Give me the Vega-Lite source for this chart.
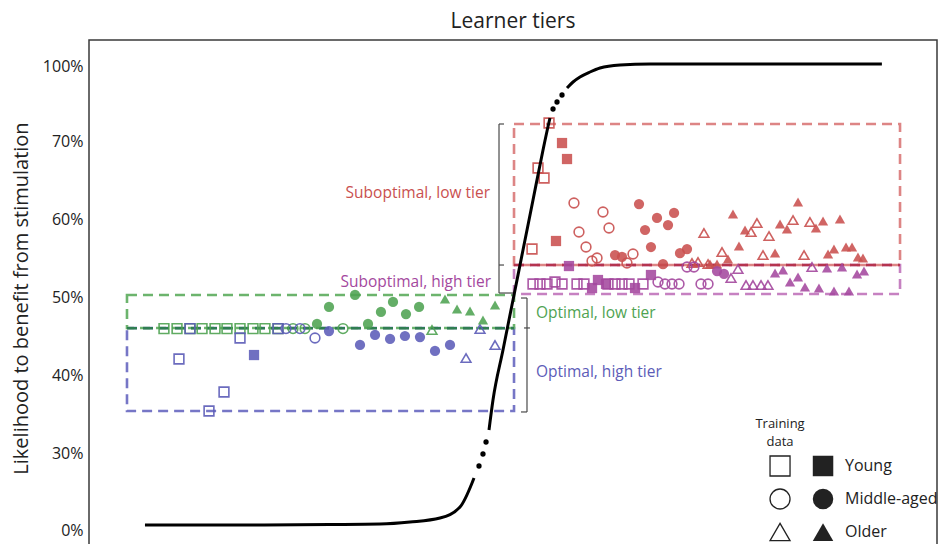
{
  "$schema": "https://vega.github.io/schema/vega-lite/v6.json",
  "width": 848,
  "height": 510,
  "autosize": {"type": "none"},
  "padding": {"left": 89, "top": 40, "right": 7, "bottom": 0},
  "title": {"text": "Learner tiers", "fontSize": 21, "fontWeight": "normal", "color": "#222", "offset": 8, "anchor": "middle"},
  "config": {"font": "Open Sans", "view": {"stroke": "#3a3a3a", "strokeWidth": 1.5}},
  "datasets": {
    "pts": [
      {"tier": "Optimal, low tier", "age": "Young", "set": "training", "x": 8.84, "y": 45.95},
      {"tier": "Optimal, low tier", "age": "Young", "set": "training", "x": 10.38, "y": 45.95},
      {"tier": "Optimal, low tier", "age": "Young", "set": "training", "x": 11.91, "y": 45.95},
      {"tier": "Optimal, low tier", "age": "Young", "set": "training", "x": 13.33, "y": 45.95},
      {"tier": "Optimal, low tier", "age": "Young", "set": "training", "x": 14.86, "y": 45.95},
      {"tier": "Optimal, low tier", "age": "Young", "set": "training", "x": 16.27, "y": 45.95},
      {"tier": "Optimal, low tier", "age": "Young", "set": "training", "x": 17.81, "y": 45.95},
      {"tier": "Optimal, low tier", "age": "Young", "set": "training", "x": 19.34, "y": 45.95},
      {"tier": "Optimal, low tier", "age": "Young", "set": "training", "x": 20.75, "y": 45.95},
      {"tier": "Optimal, low tier", "age": "Young", "set": "training", "x": 22.29, "y": 45.95},
      {"tier": "Optimal, low tier", "age": "Middle-aged", "set": "training", "x": 24.06, "y": 45.95},
      {"tier": "Optimal, low tier", "age": "Middle-aged", "set": "training", "x": 25.47, "y": 45.95},
      {"tier": "Optimal, low tier", "age": "Middle-aged", "set": "training", "x": 29.95, "y": 45.95},
      {"tier": "Optimal, low tier", "age": "Middle-aged", "set": "test", "x": 26.89, "y": 46.54},
      {"tier": "Optimal, low tier", "age": "Middle-aged", "set": "test", "x": 28.30, "y": 48.72},
      {"tier": "Optimal, low tier", "age": "Middle-aged", "set": "test", "x": 31.37, "y": 50.26},
      {"tier": "Optimal, low tier", "age": "Middle-aged", "set": "test", "x": 32.90, "y": 46.54},
      {"tier": "Optimal, low tier", "age": "Middle-aged", "set": "test", "x": 34.43, "y": 48.08},
      {"tier": "Optimal, low tier", "age": "Middle-aged", "set": "test", "x": 35.85, "y": 49.36},
      {"tier": "Optimal, low tier", "age": "Middle-aged", "set": "test", "x": 37.38, "y": 47.82},
      {"tier": "Optimal, low tier", "age": "Middle-aged", "set": "test", "x": 38.92, "y": 48.72},
      {"tier": "Optimal, low tier", "age": "Older", "set": "test", "x": 41.98, "y": 49.74},
      {"tier": "Optimal, low tier", "age": "Older", "set": "test", "x": 43.40, "y": 48.46},
      {"tier": "Optimal, low tier", "age": "Older", "set": "test", "x": 44.93, "y": 48.21},
      {"tier": "Optimal, low tier", "age": "Older", "set": "test", "x": 46.46, "y": 47.05},
      {"tier": "Optimal, low tier", "age": "Older", "set": "test", "x": 47.88, "y": 48.97},
      {"tier": "Optimal, low tier", "age": "Older", "set": "training", "x": 40.45, "y": 45.77},

      {"tier": "Optimal, high tier", "age": "Young", "set": "training", "x": 17.81, "y": 44.74},
      {"tier": "Optimal, high tier", "age": "Young", "set": "training", "x": 10.61, "y": 42.05},
      {"tier": "Optimal, high tier", "age": "Young", "set": "training", "x": 15.92, "y": 37.82},
      {"tier": "Optimal, high tier", "age": "Young", "set": "training", "x": 14.15, "y": 35.38},
      {"tier": "Optimal, high tier", "age": "Young", "set": "training", "x": 11.91, "y": 45.95},
      {"tier": "Optimal, high tier", "age": "Young", "set": "training", "x": 22.29, "y": 45.95},
      {"tier": "Optimal, high tier", "age": "Young", "set": "test", "x": 19.46, "y": 42.56},
      {"tier": "Optimal, high tier", "age": "Middle-aged", "set": "training", "x": 26.65, "y": 44.74},
      {"tier": "Optimal, high tier", "age": "Middle-aged", "set": "training", "x": 23.23, "y": 45.95},
      {"tier": "Optimal, high tier", "age": "Middle-aged", "set": "training", "x": 24.88, "y": 45.95},
      {"tier": "Optimal, high tier", "age": "Middle-aged", "set": "test", "x": 28.30, "y": 45.64},
      {"tier": "Optimal, high tier", "age": "Middle-aged", "set": "test", "x": 31.96, "y": 43.85},
      {"tier": "Optimal, high tier", "age": "Middle-aged", "set": "test", "x": 33.73, "y": 45.13},
      {"tier": "Optimal, high tier", "age": "Middle-aged", "set": "test", "x": 35.50, "y": 44.62},
      {"tier": "Optimal, high tier", "age": "Middle-aged", "set": "test", "x": 37.26, "y": 45.0},
      {"tier": "Optimal, high tier", "age": "Middle-aged", "set": "test", "x": 39.03, "y": 44.87},
      {"tier": "Optimal, high tier", "age": "Middle-aged", "set": "test", "x": 40.80, "y": 43.08},
      {"tier": "Optimal, high tier", "age": "Middle-aged", "set": "test", "x": 42.57, "y": 43.85},
      {"tier": "Optimal, high tier", "age": "Older", "set": "training", "x": 46.11, "y": 45.9},
      {"tier": "Optimal, high tier", "age": "Older", "set": "training", "x": 47.88, "y": 43.85},
      {"tier": "Optimal, high tier", "age": "Older", "set": "training", "x": 44.46, "y": 42.18},

      {"tier": "Suboptimal, low tier", "age": "Young", "set": "training", "x": 54.25, "y": 77.2},
      {"tier": "Suboptimal, low tier", "age": "Young", "set": "training", "x": 52.95, "y": 66.54},
      {"tier": "Suboptimal, low tier", "age": "Young", "set": "training", "x": 53.66, "y": 65.26},
      {"tier": "Suboptimal, low tier", "age": "Young", "set": "training", "x": 52.24, "y": 56.15},
      {"tier": "Suboptimal, low tier", "age": "Young", "set": "test", "x": 55.78, "y": 69.74},
      {"tier": "Suboptimal, low tier", "age": "Young", "set": "test", "x": 56.37, "y": 67.69},
      {"tier": "Suboptimal, low tier", "age": "Young", "set": "test", "x": 55.07, "y": 57.18},
      {"tier": "Suboptimal, low tier", "age": "Middle-aged", "set": "training", "x": 57.19, "y": 62.05},
      {"tier": "Suboptimal, low tier", "age": "Middle-aged", "set": "training", "x": 57.78, "y": 58.33},
      {"tier": "Suboptimal, low tier", "age": "Middle-aged", "set": "training", "x": 58.61, "y": 56.41},
      {"tier": "Suboptimal, low tier", "age": "Middle-aged", "set": "training", "x": 60.61, "y": 60.90},
      {"tier": "Suboptimal, low tier", "age": "Middle-aged", "set": "training", "x": 61.32, "y": 58.85},
      {"tier": "Suboptimal, low tier", "age": "Middle-aged", "set": "training", "x": 59.32, "y": 54.62},
      {"tier": "Suboptimal, low tier", "age": "Middle-aged", "set": "training", "x": 59.91, "y": 55.0},
      {"tier": "Suboptimal, low tier", "age": "Middle-aged", "set": "training", "x": 63.44, "y": 54.36},
      {"tier": "Suboptimal, low tier", "age": "Middle-aged", "set": "training", "x": 64.15, "y": 55.51},
      {"tier": "Suboptimal, low tier", "age": "Middle-aged", "set": "test", "x": 64.86, "y": 61.92},
      {"tier": "Suboptimal, low tier", "age": "Middle-aged", "set": "test", "x": 65.57, "y": 58.59},
      {"tier": "Suboptimal, low tier", "age": "Middle-aged", "set": "test", "x": 66.98, "y": 60.13},
      {"tier": "Suboptimal, low tier", "age": "Middle-aged", "set": "test", "x": 68.28, "y": 59.23},
      {"tier": "Suboptimal, low tier", "age": "Middle-aged", "set": "test", "x": 68.99, "y": 60.77},
      {"tier": "Suboptimal, low tier", "age": "Middle-aged", "set": "test", "x": 66.27, "y": 56.41},
      {"tier": "Suboptimal, low tier", "age": "Middle-aged", "set": "test", "x": 62.03, "y": 55.38},
      {"tier": "Suboptimal, low tier", "age": "Middle-aged", "set": "test", "x": 62.85, "y": 55.13},
      {"tier": "Suboptimal, low tier", "age": "Middle-aged", "set": "test", "x": 69.69, "y": 55.64},
      {"tier": "Suboptimal, low tier", "age": "Middle-aged", "set": "test", "x": 70.52, "y": 56.15},
      {"tier": "Suboptimal, low tier", "age": "Middle-aged", "set": "test", "x": 67.69, "y": 54.23},
      {"tier": "Suboptimal, low tier", "age": "Older", "set": "training", "x": 72.52, "y": 58.21},
      {"tier": "Suboptimal, low tier", "age": "Older", "set": "training", "x": 74.65, "y": 55.77},
      {"tier": "Suboptimal, low tier", "age": "Older", "set": "training", "x": 71.11, "y": 54.36},
      {"tier": "Suboptimal, low tier", "age": "Older", "set": "training", "x": 71.82, "y": 54.49},
      {"tier": "Suboptimal, low tier", "age": "Older", "set": "training", "x": 78.77, "y": 59.49},
      {"tier": "Suboptimal, low tier", "age": "Older", "set": "training", "x": 78.07, "y": 58.33},
      {"tier": "Suboptimal, low tier", "age": "Older", "set": "training", "x": 80.19, "y": 57.82},
      {"tier": "Suboptimal, low tier", "age": "Older", "set": "training", "x": 83.02, "y": 59.87},
      {"tier": "Suboptimal, low tier", "age": "Older", "set": "training", "x": 85.02, "y": 59.62},
      {"tier": "Suboptimal, low tier", "age": "Older", "set": "training", "x": 79.48, "y": 55.38},
      {"tier": "Suboptimal, low tier", "age": "Older", "set": "training", "x": 84.32, "y": 55.38},
      {"tier": "Suboptimal, low tier", "age": "Older", "set": "training", "x": 73.00, "y": 54.23},
      {"tier": "Suboptimal, low tier", "age": "Older", "set": "test", "x": 75.94, "y": 60.64},
      {"tier": "Suboptimal, low tier", "age": "Older", "set": "test", "x": 83.61, "y": 62.18},
      {"tier": "Suboptimal, low tier", "age": "Older", "set": "test", "x": 77.36, "y": 58.59},
      {"tier": "Suboptimal, low tier", "age": "Older", "set": "test", "x": 81.49, "y": 59.36},
      {"tier": "Suboptimal, low tier", "age": "Older", "set": "test", "x": 82.31, "y": 58.72},
      {"tier": "Suboptimal, low tier", "age": "Older", "set": "test", "x": 85.73, "y": 58.85},
      {"tier": "Suboptimal, low tier", "age": "Older", "set": "test", "x": 86.56, "y": 59.74},
      {"tier": "Suboptimal, low tier", "age": "Older", "set": "test", "x": 88.56, "y": 60.0},
      {"tier": "Suboptimal, low tier", "age": "Older", "set": "test", "x": 76.65, "y": 56.54},
      {"tier": "Suboptimal, low tier", "age": "Older", "set": "test", "x": 80.90, "y": 55.64},
      {"tier": "Suboptimal, low tier", "age": "Older", "set": "test", "x": 87.15, "y": 55.51},
      {"tier": "Suboptimal, low tier", "age": "Older", "set": "test", "x": 87.85, "y": 56.15},
      {"tier": "Suboptimal, low tier", "age": "Older", "set": "test", "x": 89.27, "y": 56.41},
      {"tier": "Suboptimal, low tier", "age": "Older", "set": "test", "x": 89.98, "y": 56.41},
      {"tier": "Suboptimal, low tier", "age": "Older", "set": "test", "x": 90.68, "y": 55.13},
      {"tier": "Suboptimal, low tier", "age": "Older", "set": "test", "x": 91.27, "y": 55.0},
      {"tier": "Suboptimal, low tier", "age": "Older", "set": "test", "x": 75.35, "y": 54.87},
      {"tier": "Suboptimal, low tier", "age": "Older", "set": "test", "x": 73.23, "y": 54.23},
      {"tier": "Suboptimal, low tier", "age": "Older", "set": "test", "x": 74.06, "y": 54.23},

      {"tier": "Suboptimal, high tier", "age": "Young", "set": "training", "x": 52.36, "y": 51.67},
      {"tier": "Suboptimal, high tier", "age": "Young", "set": "training", "x": 53.18, "y": 51.67},
      {"tier": "Suboptimal, high tier", "age": "Young", "set": "training", "x": 54.01, "y": 51.67},
      {"tier": "Suboptimal, high tier", "age": "Young", "set": "training", "x": 54.95, "y": 51.92},
      {"tier": "Suboptimal, high tier", "age": "Young", "set": "training", "x": 55.78, "y": 51.67},
      {"tier": "Suboptimal, high tier", "age": "Young", "set": "training", "x": 57.55, "y": 51.67},
      {"tier": "Suboptimal, high tier", "age": "Young", "set": "training", "x": 58.37, "y": 51.67},
      {"tier": "Suboptimal, high tier", "age": "Young", "set": "training", "x": 61.20, "y": 51.67},
      {"tier": "Suboptimal, high tier", "age": "Young", "set": "training", "x": 62.03, "y": 51.67},
      {"tier": "Suboptimal, high tier", "age": "Young", "set": "training", "x": 62.85, "y": 51.67},
      {"tier": "Suboptimal, high tier", "age": "Young", "set": "training", "x": 63.68, "y": 51.67},
      {"tier": "Suboptimal, high tier", "age": "Young", "set": "training", "x": 65.33, "y": 51.67},
      {"tier": "Suboptimal, high tier", "age": "Young", "set": "test", "x": 59.32, "y": 51.15},
      {"tier": "Suboptimal, high tier", "age": "Young", "set": "test", "x": 60.02, "y": 52.18},
      {"tier": "Suboptimal, high tier", "age": "Young", "set": "test", "x": 60.97, "y": 51.67},
      {"tier": "Suboptimal, high tier", "age": "Young", "set": "test", "x": 64.39, "y": 51.15},
      {"tier": "Suboptimal, high tier", "age": "Young", "set": "test", "x": 66.27, "y": 52.82},
      {"tier": "Suboptimal, high tier", "age": "Young", "set": "test", "x": 56.60, "y": 53.97},
      {"tier": "Suboptimal, high tier", "age": "Middle-aged", "set": "training", "x": 67.10, "y": 51.92},
      {"tier": "Suboptimal, high tier", "age": "Middle-aged", "set": "training", "x": 67.92, "y": 51.67},
      {"tier": "Suboptimal, high tier", "age": "Middle-aged", "set": "training", "x": 68.75, "y": 51.67},
      {"tier": "Suboptimal, high tier", "age": "Middle-aged", "set": "training", "x": 69.58, "y": 51.67},
      {"tier": "Suboptimal, high tier", "age": "Middle-aged", "set": "training", "x": 72.17, "y": 51.67},
      {"tier": "Suboptimal, high tier", "age": "Middle-aged", "set": "training", "x": 73.00, "y": 51.67},
      {"tier": "Suboptimal, high tier", "age": "Middle-aged", "set": "training", "x": 70.52, "y": 53.85},
      {"tier": "Suboptimal, high tier", "age": "Middle-aged", "set": "training", "x": 71.34, "y": 53.85},
      {"tier": "Suboptimal, high tier", "age": "Middle-aged", "set": "test", "x": 74.06, "y": 53.33},
      {"tier": "Suboptimal, high tier", "age": "Middle-aged", "set": "test", "x": 74.88, "y": 52.95},
      {"tier": "Suboptimal, high tier", "age": "Older", "set": "training", "x": 75.71, "y": 52.44},
      {"tier": "Suboptimal, high tier", "age": "Older", "set": "training", "x": 76.53, "y": 53.59},
      {"tier": "Suboptimal, high tier", "age": "Older", "set": "training", "x": 77.48, "y": 51.54},
      {"tier": "Suboptimal, high tier", "age": "Older", "set": "training", "x": 78.30, "y": 51.54},
      {"tier": "Suboptimal, high tier", "age": "Older", "set": "training", "x": 79.25, "y": 51.54},
      {"tier": "Suboptimal, high tier", "age": "Older", "set": "training", "x": 80.07, "y": 51.54},
      {"tier": "Suboptimal, high tier", "age": "Older", "set": "training", "x": 85.26, "y": 53.85},
      {"tier": "Suboptimal, high tier", "age": "Older", "set": "test", "x": 80.90, "y": 53.08},
      {"tier": "Suboptimal, high tier", "age": "Older", "set": "test", "x": 81.84, "y": 53.46},
      {"tier": "Suboptimal, high tier", "age": "Older", "set": "test", "x": 82.67, "y": 51.92},
      {"tier": "Suboptimal, high tier", "age": "Older", "set": "test", "x": 83.61, "y": 52.56},
      {"tier": "Suboptimal, high tier", "age": "Older", "set": "test", "x": 84.43, "y": 51.28},
      {"tier": "Suboptimal, high tier", "age": "Older", "set": "test", "x": 86.08, "y": 51.15},
      {"tier": "Suboptimal, high tier", "age": "Older", "set": "test", "x": 87.03, "y": 53.72},
      {"tier": "Suboptimal, high tier", "age": "Older", "set": "test", "x": 87.85, "y": 50.77},
      {"tier": "Suboptimal, high tier", "age": "Older", "set": "test", "x": 88.80, "y": 53.85},
      {"tier": "Suboptimal, high tier", "age": "Older", "set": "test", "x": 89.62, "y": 50.77},
      {"tier": "Suboptimal, high tier", "age": "Older", "set": "test", "x": 90.57, "y": 52.95},
      {"tier": "Suboptimal, high tier", "age": "Older", "set": "test", "x": 91.39, "y": 53.33}
    ],
    "boxes": [
      {"box": "Optimal, high tier", "x": 4.48, "x2": 50.12, "y": 35.38, "y2": 46.03},
      {"box": "Optimal, low tier", "x": 4.48, "x2": 50.12, "y": 46.03, "y2": 50.26},
      {"box": "Suboptimal, high tier", "x": 50.12, "x2": 95.64, "y": 50.38, "y2": 54.10},
      {"box": "Suboptimal, low tier", "x": 50.12, "x2": 95.64, "y": 54.10, "y2": 76.8}
    ],
    "dividers": [
      {"box": "Optimal split", "x": 4.48, "x2": 50.12, "y": 46.0},
      {"box": "Suboptimal split", "x": 50.12, "x2": 95.64, "y": 54.10}
    ],
    "brackets": [
      {"x": 48.35, "x2": 48.35, "y": 50.51, "y2": 76.8},
      {"x": 48.35, "x2": 48.94, "y": 76.8, "y2": 76.8},
      {"x": 48.35, "x2": 48.94, "y": 54.10, "y2": 54.10},
      {"x": 48.35, "x2": 50.0, "y": 50.51, "y2": 50.51},
      {"x": 51.65, "x2": 51.65, "y": 35.26, "y2": 49.87},
      {"x": 50.94, "x2": 51.65, "y": 49.87, "y2": 49.87},
      {"x": 50.94, "x2": 51.65, "y": 35.26, "y2": 35.26},
      {"x": 51.30, "x2": 52.0, "y": 46.03, "y2": 46.03}
    ],
    "curve": [
      {"seg": 1, "x": 6.60, "y": 1.95},
      {"seg": 1, "x": 18.99, "y": 1.95},
      {"seg": 1, "x": 28.42, "y": 2.14},
      {"seg": 1, "x": 34.32, "y": 2.34},
      {"seg": 1, "x": 37.85, "y": 3.12},
      {"seg": 1, "x": 41.39, "y": 4.68},
      {"seg": 1, "x": 43.75, "y": 8.96},
      {"seg": 1, "x": 45.17, "y": 18.31},
      {"seg": 1, "x": 45.40, "y": 20.26},
      {"seg": 2, "x": 47.17, "y": 32.95},
      {"seg": 2, "x": 47.64, "y": 36.79},
      {"seg": 2, "x": 48.82, "y": 43.21},
      {"seg": 2, "x": 50.00, "y": 49.62},
      {"seg": 2, "x": 51.18, "y": 56.03},
      {"seg": 2, "x": 52.36, "y": 62.44},
      {"seg": 2, "x": 53.54, "y": 68.85},
      {"seg": 2, "x": 54.25, "y": 77.6},
      {"seg": 2, "x": 54.36, "y": 79.2},
      {"seg": 3, "x": 56.37, "y": 91.2},
      {"seg": 3, "x": 57.08, "y": 93.6},
      {"seg": 3, "x": 57.90, "y": 95.6},
      {"seg": 3, "x": 59.08, "y": 97.6},
      {"seg": 3, "x": 60.26, "y": 99.2},
      {"seg": 3, "x": 62.62, "y": 100.4},
      {"seg": 3, "x": 66.16, "y": 100.8},
      {"seg": 3, "x": 93.5, "y": 100.8}
    ],
    "dots": [
      {"x": 45.99, "y": 24.94},
      {"x": 46.46, "y": 29.61},
      {"x": 46.82, "y": 31.41},
      {"x": 54.72, "y": 82.8},
      {"x": 55.19, "y": 85.6},
      {"x": 55.78, "y": 88.4}
    ],
    "tierLabels": [
      {"tier": "Suboptimal, low tier", "side": "left", "x": 47.29, "y": 63.33},
      {"tier": "Suboptimal, high tier", "side": "left", "x": 47.41, "y": 51.92},
      {"tier": "Optimal, low tier", "side": "right", "x": 52.71, "y": 47.95},
      {"tier": "Optimal, high tier", "side": "right", "x": 52.71, "y": 40.38}
    ],
    "keySymbols": [
      {"age": "Young", "set": "training", "x": 81.49, "y": 24.94},
      {"age": "Young", "set": "test", "x": 86.56, "y": 24.94},
      {"age": "Middle-aged", "set": "training", "x": 81.49, "y": 12.08},
      {"age": "Middle-aged", "set": "test", "x": 86.56, "y": 12.08},
      {"age": "Older", "set": "training", "x": 81.49, "y": -0.78},
      {"age": "Older", "set": "test", "x": 86.56, "y": -0.78}
    ],
    "keyHeader": [
      {"text": "Training", "x": 81.49, "y": 33.72},
      {"text": "data", "x": 81.49, "y": 31.41}
    ],
    "keyLabels": [
      {"text": "Young", "x": 89.15, "y": 24.94},
      {"text": "Middle-aged", "x": 89.15, "y": 12.08},
      {"text": "Older", "x": 89.15, "y": -0.78}
    ]
  },
  "encoding": {
    "x": {"field": "x", "type": "quantitative", "scale": {"domain": [0, 100], "nice": false, "zero": false}, "axis": null},
    "y": {
      "field": "y",
      "type": "quantitative",
      "scale": {"domain": [0, 30, 70, 100], "range": [490, 413, 101, 26], "nice": false, "zero": false},
      "axis": {
        "title": "Likelihood to benefit from stimulation",
        "values": [0, 30, 40, 50, 60, 70, 100],
        "labelExpr": "datum.value + '%'",
        "domain": false,
        "ticks": false,
        "grid": false,
        "labelFontSize": 16,
        "labelColor": "#222",
        "labelPadding": 6,
        "titleFontSize": 20,
        "titleFontWeight": "normal",
        "titleColor": "#222",
        "titlePadding": 11
      }
    }
  },
  "layer": [
    {
      "data": {"name": "boxes"},
      "mark": {"type": "rect", "filled": false, "strokeDash": [10, 6], "strokeWidth": 2.6},
      "encoding": {
        "x2": {"field": "x2"},
        "y2": {"field": "y2"},
        "stroke": {
          "field": "box", "type": "nominal", "legend": null,
          "scale": {
            "domain": ["Optimal, low tier", "Optimal, high tier", "Suboptimal, low tier", "Suboptimal, high tier", "Optimal split", "Suboptimal split"],
            "range": ["#6cb46d", "#7676c6", "#dd8585", "#c681c1", "#2f7d52", "#b5344f"]
          }
        }
      }
    },
    {
      "data": {"name": "dividers"},
      "mark": {"type": "rule", "strokeDash": [10, 6], "strokeWidth": 2.6},
      "encoding": {
        "x2": {"field": "x2"},
        "stroke": {"field": "box", "type": "nominal", "legend": null}
      }
    },
    {
      "data": {"name": "pts"},
      "transform": [{"filter": "datum.set === 'training'"}],
      "mark": {"type": "point", "filled": false, "strokeWidth": 1.6, "size": 95, "opacity": 0.9},
      "encoding": {
        "color": {
          "field": "tier", "type": "nominal", "legend": null,
          "scale": {
            "domain": ["Optimal, low tier", "Optimal, high tier", "Suboptimal, low tier", "Suboptimal, high tier"],
            "range": ["#4fa352", "#5c5cb8", "#c9504f", "#a4489e"]
          }
        },
        "shape": {
          "field": "age", "type": "nominal", "legend": null,
          "scale": {"domain": ["Young", "Middle-aged", "Older"], "range": ["square", "circle", "triangle-up"]}
        }
      }
    },
    {
      "data": {"name": "pts"},
      "transform": [{"filter": "datum.set === 'test'"}],
      "mark": {"type": "point", "filled": true, "size": 105, "opacity": 0.88},
      "encoding": {
        "color": {"field": "tier", "type": "nominal", "legend": null},
        "shape": {"field": "age", "type": "nominal", "legend": null}
      }
    },
    {
      "data": {"name": "curve"},
      "mark": {"type": "line", "color": "#000", "strokeWidth": 3, "interpolate": "monotone"},
      "encoding": {"detail": {"field": "seg", "type": "nominal"}}
    },
    {
      "data": {"name": "dots"},
      "mark": {"type": "point", "filled": true, "color": "#000", "shape": "circle", "size": 28, "opacity": 1}
    },
    {
      "data": {"name": "brackets"},
      "mark": {"type": "rule", "color": "#4a4a4a", "strokeWidth": 1.2},
      "encoding": {"x2": {"field": "x2"}, "y2": {"field": "y2"}}
    },
    {
      "data": {"name": "tierLabels"},
      "transform": [{"filter": "datum.side === 'left'"}],
      "mark": {"type": "text", "align": "right", "baseline": "middle", "fontSize": 15.5},
      "encoding": {
        "text": {"field": "tier"},
        "color": {"field": "tier", "type": "nominal", "legend": null}
      }
    },
    {
      "data": {"name": "tierLabels"},
      "transform": [{"filter": "datum.side === 'right'"}],
      "mark": {"type": "text", "align": "left", "baseline": "middle", "fontSize": 15.5},
      "encoding": {
        "text": {"field": "tier"},
        "color": {"field": "tier", "type": "nominal", "legend": null}
      }
    },
    {
      "data": {"name": "keySymbols"},
      "transform": [{"filter": "datum.set === 'training'"}],
      "mark": {"type": "point", "filled": false, "color": "#222", "strokeWidth": 1.3, "size": 400, "opacity": 1},
      "encoding": {"shape": {"field": "age", "type": "nominal", "legend": null}}
    },
    {
      "data": {"name": "keySymbols"},
      "transform": [{"filter": "datum.set === 'test'"}],
      "mark": {"type": "point", "filled": true, "color": "#222", "size": 420, "opacity": 1},
      "encoding": {"shape": {"field": "age", "type": "nominal", "legend": null}}
    },
    {
      "data": {"name": "keyHeader"},
      "mark": {"type": "text", "align": "center", "baseline": "middle", "fontSize": 13, "color": "#222"},
      "encoding": {"text": {"field": "text"}}
    },
    {
      "data": {"name": "keyLabels"},
      "mark": {"type": "text", "align": "left", "baseline": "middle", "fontSize": 16, "color": "#222"},
      "encoding": {"text": {"field": "text"}}
    }
  ]
}
